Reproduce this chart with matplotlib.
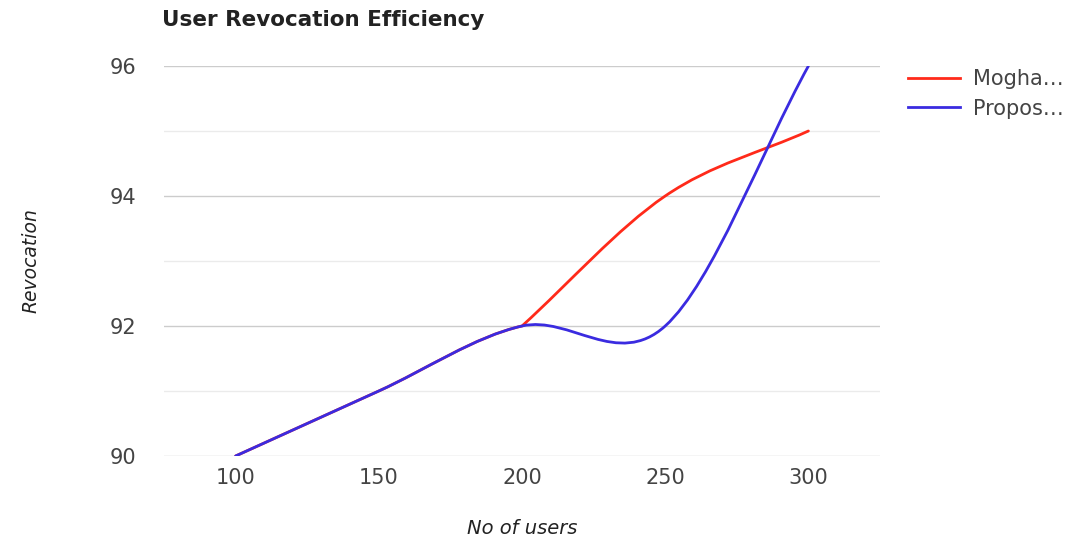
import matplotlib
matplotlib.use("Agg")
import matplotlib.pyplot as plt
from matplotlib.path import Path
from matplotlib.patches import PathPatch
from matplotlib.lines import Line2D
import numpy as np

users = [100, 150, 200, 250, 300]
mogha = [90, 91, 92, 94, 95]
proposed = [90, 91, 92, 92, 96]
series_names = ["Mogha…", "Propos…"]
series_colors = ["#ff2a1a", "#3a2be0"]
x_ticks = [100, 150, 200, 250, 300]
y_major = [90, 92, 94, 96]
y_minor = [91, 93, 95]

plt.rcParams['font.family'] = ['DejaVu Sans']

fig = plt.figure(figsize=(10.76, 5.42), dpi=100)
ax = fig.add_axes([164/1076, 1-456/542, (880-164)/1076, (456-66)/542])


def smooth_path(xs, ys, in_override=None):
    """Cubic Bezier curve through the points; tangents Catmull-Rom style.
    in_override: {index: (series whose neighbours define the incoming tangent,
                          use straight outgoing segment slope)}"""
    xs = np.asarray(xs, float); ys = np.asarray(ys, float)
    n = len(xs)

    def cr(yy, i):
        if i == 0:
            return (yy[1]-yy[0])/(xs[1]-xs[0])
        if i == n-1:
            return (yy[-1]-yy[-2])/(xs[-1]-xs[-2])
        return (yy[i+1]-yy[i-1])/(xs[i+1]-xs[i-1])

    s_out = [cr(ys, i) for i in range(n)]
    s_in = list(s_out)
    if in_override:
        for i, (yy, out_seg) in in_override.items():
            s_in[i] = cr(np.asarray(yy, float), i)
            if out_seg:
                s_out[i] = (ys[i+1]-ys[i])/(xs[i+1]-xs[i])
    verts = [(xs[0], ys[0])]
    codes = [Path.MOVETO]
    for i in range(n-1):
        h = (xs[i+1]-xs[i])/3
        verts += [(xs[i]+h, ys[i]+s_out[i]*h),
                  (xs[i+1]-h, ys[i+1]-s_in[i+1]*h),
                  (xs[i+1], ys[i+1])]
        codes += [Path.CURVE4]*3
    return Path(verts, codes)


paths = [smooth_path(users, mogha, in_override={2: (proposed, True)}),
         smooth_path(users, proposed)]
for p, c in zip(paths, series_colors):
    ax.add_patch(PathPatch(p, facecolor='none', edgecolor=c, lw=2.0,
                           capstyle='round', zorder=3))

ax.set_xlim(75, 325)
ax.set_ylim(90, 96)
for y in y_minor:
    ax.axhline(y, color='#ebebeb', lw=1, zorder=1)
for y in y_major:
    ax.axhline(y, color='#cccccc', lw=1, zorder=1)

for s in ax.spines.values():
    s.set_visible(False)
ax.set_xticks(x_ticks)
ax.set_yticks(y_major)
ax.tick_params(length=0, labelsize=15, colors='#444444')
ax.tick_params(axis='x', pad=9)
ax.tick_params(axis='y', pad=20)
ax.set_xlabel("No of users", fontsize=14, style='italic', color='#222222', labelpad=22)
ax.set_ylabel("Revocation", fontsize=13.5, style='italic', color='#222222', labelpad=50)

fig.text(162/1076, 1-20/542, "User Revocation Efficiency", fontsize=15.5, fontweight='bold',
         color='#222222', va='center', ha='left')

handles = [Line2D([], [], color=c, lw=2.0) for c in series_colors]
fig.legend(handles, series_names, loc='upper left', bbox_to_anchor=(900/1076, 1-61/542),
           frameon=False, fontsize=15, labelcolor='#444444', handlelength=2.5,
           handletextpad=0.6, labelspacing=0.45, borderaxespad=0)

fig.savefig("out.png", dpi=100)
